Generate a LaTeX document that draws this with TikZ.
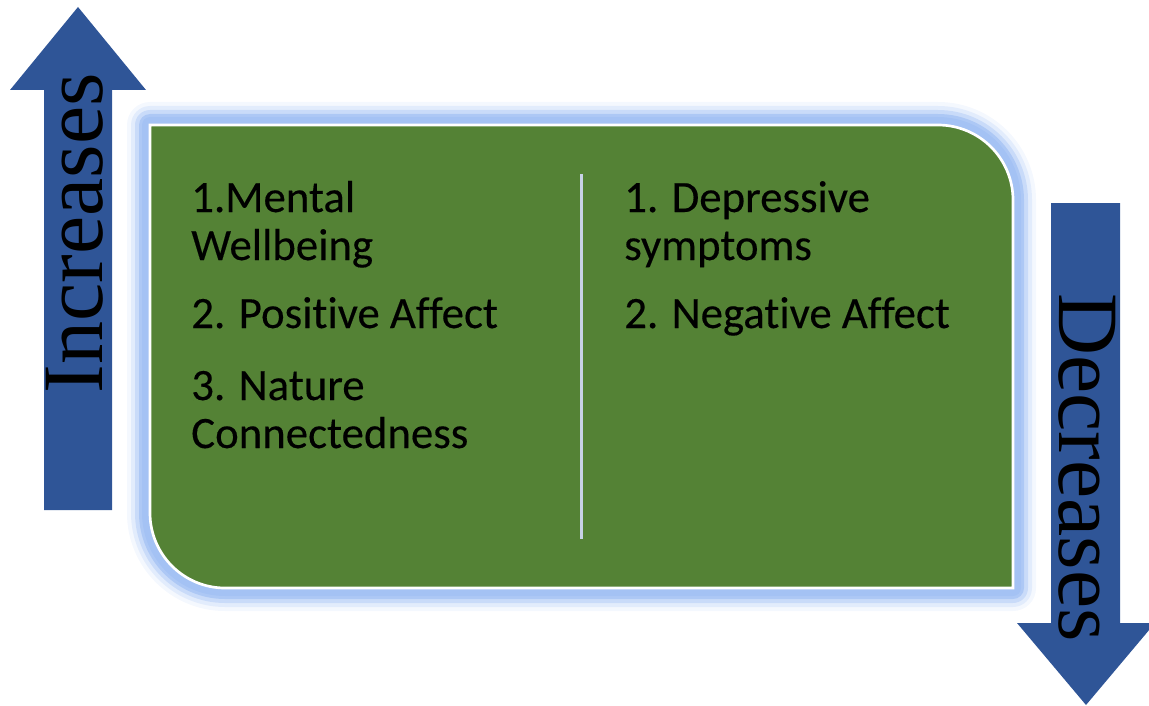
\documentclass[tikz,border=0pt]{standalone}
\usepackage{fontspec}
\setmainfont{Carlito}[Ligatures={NoCommon}]
\newfontfamily\itemfont{Carlito}[Ligatures={NoCommon}, FakeBold=0.3]
\newfontfamily\arrowserif{Liberation Serif}
\definecolor{arrowblue}{HTML}{2F5597}
\definecolor{panelgreen}{HTML}{548235}
\definecolor{glowblue}{HTML}{A4C2F4}
\definecolor{dividergray}{HTML}{C8D2E6}
\tikzset{
  panelshape/.style={insert path={
    (150,125) -- (938,125) .. controls (979.4,125) and (1013,158.6) .. (1013,200)
    -- (1013,588) -- (225,588) .. controls (183.6,588) and (150,554.4) .. (150,513)
    -- cycle}},
  item/.style={anchor=base west, inner sep=0pt, text=black,
    font=\itemfont\fontsize{33.6}{38}\selectfont},
  arrowlabel/.style={inner sep=0pt, text=black,
    font=\arrowserif\fontsize{64.5}{64.5}\selectfont},
}
\begin{document}
\begin{tikzpicture}[x=0.75pt,y=-0.75pt]
\useasboundingbox (0,0) rectangle (1149,706);
\clip (0,0) rectangle (1149,706);

% upward arrow on the left
\fill[arrowblue] (44,510) -- (44,90) -- (10,90) -- (78,7) -- (146,90)
  -- (112,90) -- (112,510) -- cycle;
\node[arrowlabel, rotate=90, anchor=base west] (inc) at (102,393.5) {Increases};

% downward arrow on the right
\fill[arrowblue] (1051,203) -- (1120,203) -- (1120,623) -- (1155,623)
  -- (1086,705) -- (1017,623) -- (1051,623) -- cycle;
\node[arrowlabel, rotate=-90, anchor=base west] (dec) at (1059,293) {Decreases};

% soft glow around the panel
\foreach \w/\o in {46/0.12, 38/0.22, 30/0.4, 22/0.75, 16/1} {
  \path[draw=glowblue, line width=\w*0.75pt, draw opacity=\o,
        line join=round, panelshape];
}
% green panel with a thin white rim
\path[fill=panelgreen, draw=white, line width=2pt, panelshape];

% divider between the two columns
\coordinate (divtop) at (581.5,174);
\coordinate (divbot) at (581.5,539);
\draw[dividergray, line width=2.2pt] (divtop) -- (divbot);

% left column
\node[item] (l1a) at (191,212) {1.Mental};
\node[item] (l1b) at (191,260) {Wellbeing};
\node[item] (l2)  at (191,328) {2. Positive Affect};
\node[item] (l3a) at (191,400) {3. Nature};
\node[item] (l3b) at (191,448) {Connectedness};

% right column
\node[item] (r1a) at (624,212) {1. Depressive};
\node[item] (r1b) at (624,260) {symptoms};
\node[item] (r2)  at (624,328) {2. Negative Affect};
\end{tikzpicture}
\end{document}
